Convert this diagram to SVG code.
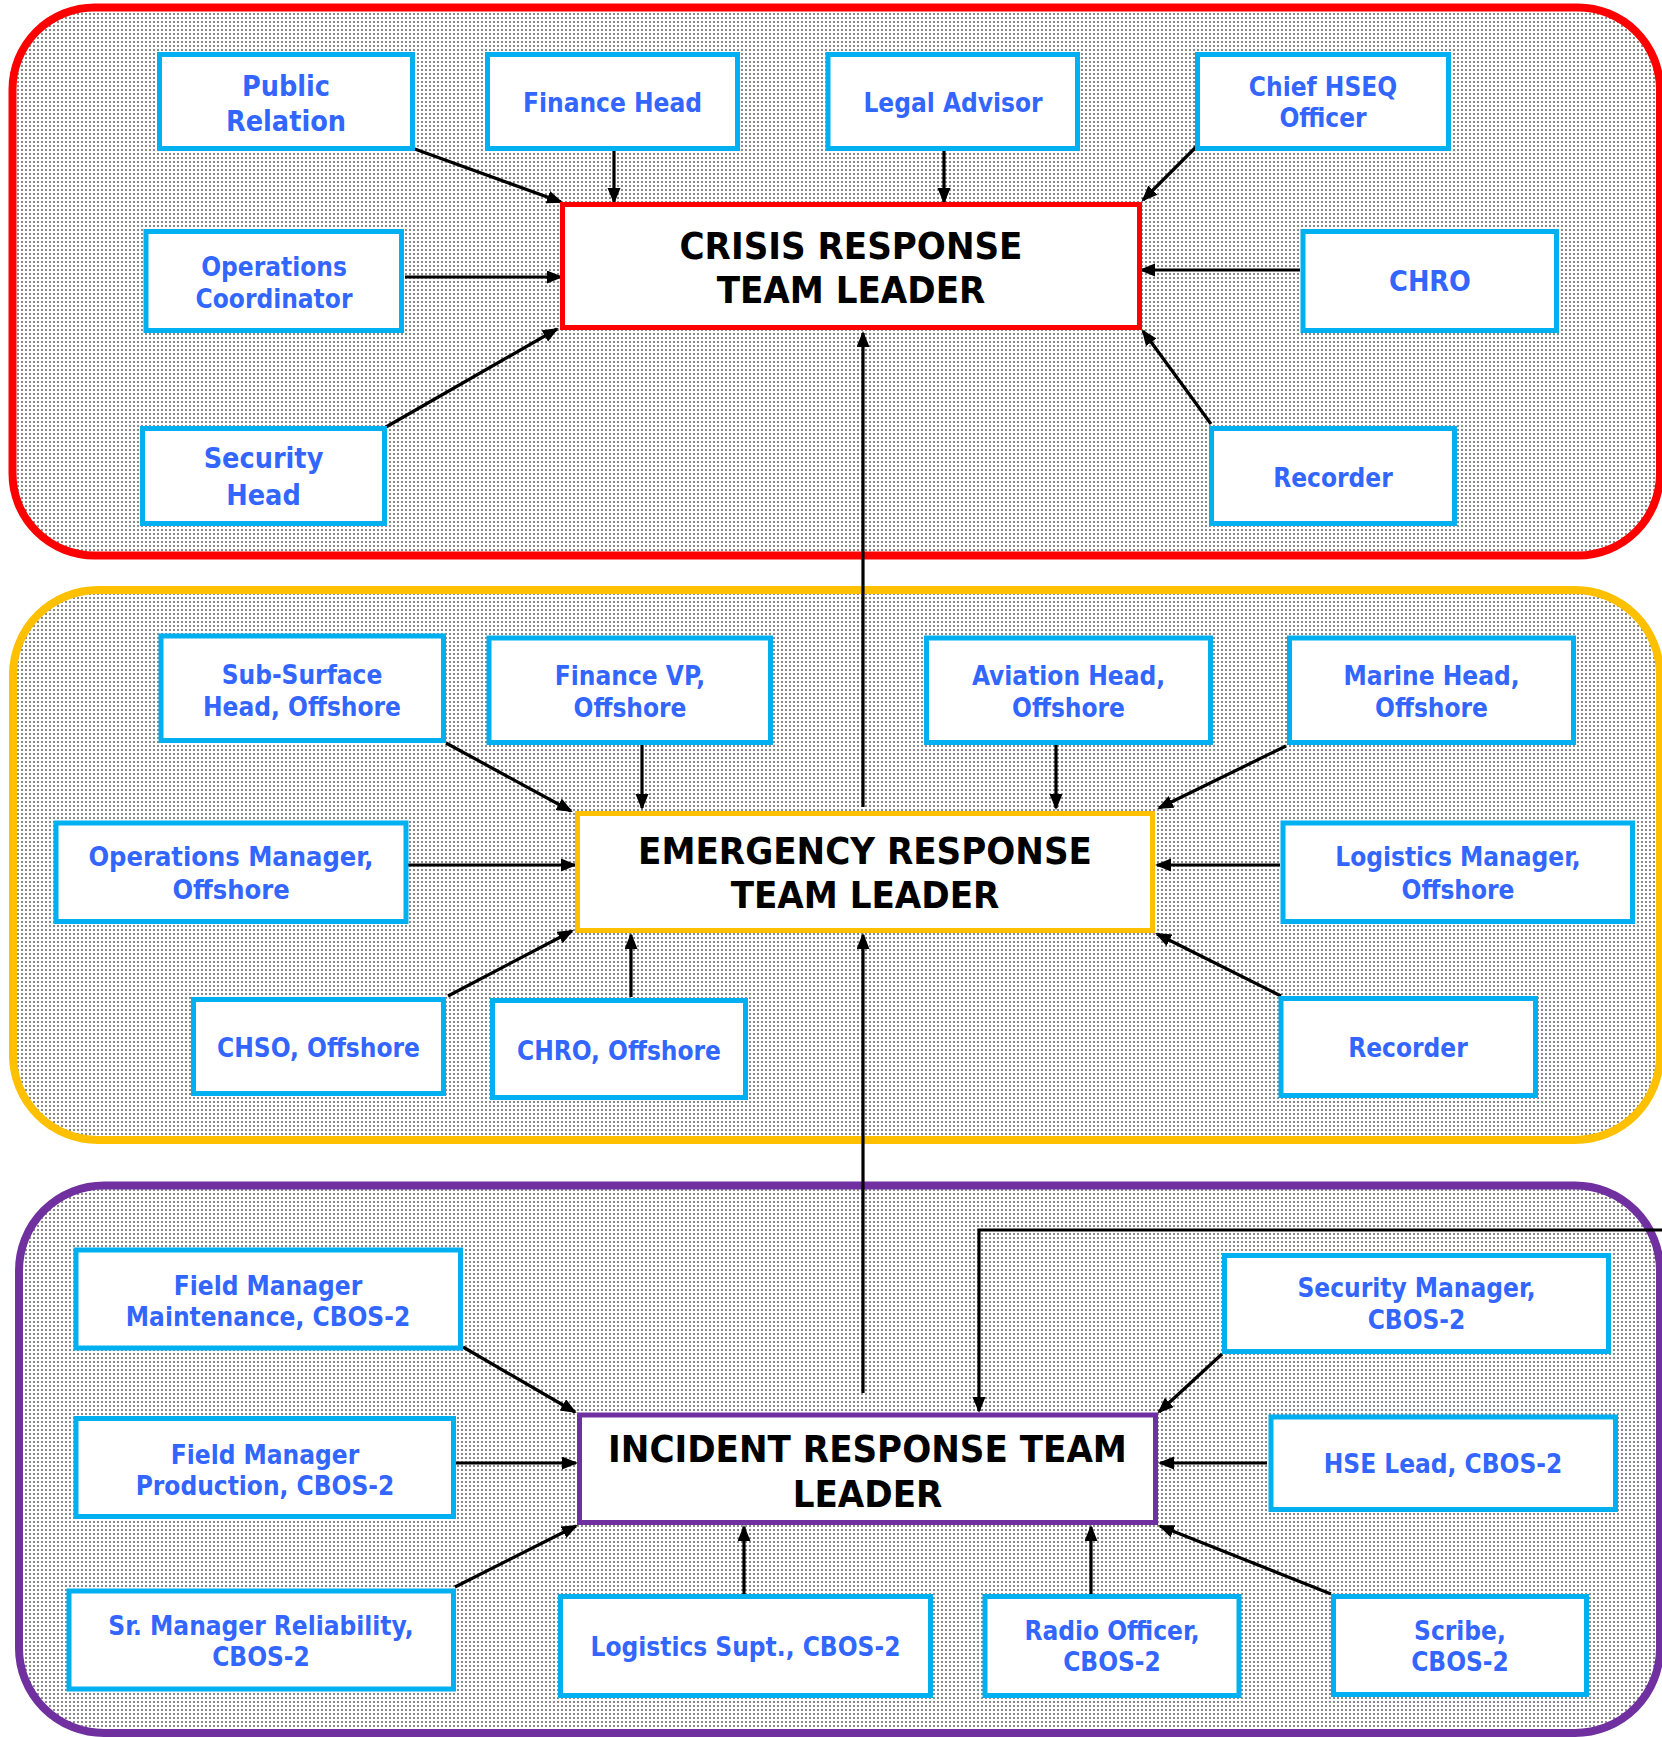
<svg xmlns="http://www.w3.org/2000/svg" width="1662" height="1737" viewBox="0 0 1662 1737">
<defs>
<pattern id="dots" patternUnits="userSpaceOnUse" width="4" height="4">
<rect width="4" height="4" fill="#ffffff"/>
<rect x="1" y="1" width="2" height="2" fill="#8a8a8a"/>
</pattern>
<marker id="arr" markerUnits="userSpaceOnUse" markerWidth="17" markerHeight="14" refX="14" refY="6.5" orient="auto">
<path d="M0,0 L16,6.5 L0,13 z" fill="#000"/>
</marker>
</defs>
<style>
.zone{fill:url(#dots);stroke-width:8}
.box{fill:#fff;stroke:#00B0F0;stroke-width:5}
.lead{fill:#fff;stroke-width:5}
.t{font-family:'DejaVu Sans Condensed','DejaVu Sans',sans-serif;font-weight:bold;fill:#3366FF;font-size:26px;text-anchor:middle}
.tb{font-size:28.5px}
.L{font-family:'DejaVu Sans Condensed','DejaVu Sans',sans-serif;font-weight:bold;fill:#000;font-size:38px;text-anchor:middle}
.c{stroke:#000;stroke-width:3.2;fill:none;marker-end:url(#arr)}
</style>
<rect width="1662" height="1737" fill="#fff"/>
<g id="zones">
<rect id="crisis-zone" class="zone" x="12.5" y="7.5" width="1647.5" height="548" rx="82" stroke="#FF0000"/>
<rect id="emergency-zone" class="zone" x="13" y="590" width="1647" height="550" rx="85" stroke="#FFC000"/>
<rect id="incident-zone" class="zone" x="19" y="1185.5" width="1641" height="547.5" rx="85" stroke="#7030A0"/>
</g>
<g id="connectors">
<line class="c" x1="412" y1="148" x2="561" y2="202"/>
<line class="c" x1="614" y1="151" x2="614" y2="202"/>
<line class="c" x1="944" y1="151" x2="944" y2="202"/>
<line class="c" x1="1197" y1="146" x2="1143" y2="200"/>
<line class="c" x1="405" y1="277" x2="561" y2="277"/>
<line class="c" x1="1300" y1="270" x2="1141" y2="270"/>
<line class="c" x1="386" y1="427" x2="557" y2="329"/>
<line class="c" x1="1211" y1="424" x2="1143" y2="331"/>
<line class="c" x1="863" y1="807" x2="863" y2="333"/>
<line class="c" x1="446" y1="743" x2="571" y2="811"/>
<line class="c" x1="642" y1="745" x2="642" y2="808"/>
<line class="c" x1="1056" y1="745" x2="1056" y2="808"/>
<line class="c" x1="1286" y1="746" x2="1159" y2="808"/>
<line class="c" x1="408" y1="865" x2="575" y2="865"/>
<line class="c" x1="1280" y1="865" x2="1157" y2="865"/>
<line class="c" x1="448" y1="996" x2="572" y2="931"/>
<line class="c" x1="631" y1="997" x2="631" y2="935"/>
<line class="c" x1="1281" y1="996" x2="1157" y2="934"/>
<line class="c" x1="863" y1="1393" x2="863" y2="935"/>
<line class="c" x1="463" y1="1347" x2="575" y2="1412"/>
<line class="c" x1="456" y1="1463" x2="576" y2="1463"/>
<line class="c" x1="455" y1="1587" x2="576" y2="1526"/>
<line class="c" x1="744" y1="1594" x2="744" y2="1527"/>
<line class="c" x1="1091" y1="1595" x2="1091" y2="1527"/>
<line class="c" x1="1331" y1="1594" x2="1160" y2="1526"/>
<line class="c" x1="1267" y1="1463" x2="1160" y2="1463"/>
<line class="c" x1="1222" y1="1354" x2="1159" y2="1412"/>
<path class="c" d="M1662,1230 H979 V1411"/>
</g>
<g id="crt-leader"><rect class="lead" x="562.5" y="204.5" width="577" height="123" stroke="#FF0000"/><text class="L" x="851" y="259">CRISIS RESPONSE</text><text class="L" x="851" y="303">TEAM LEADER</text></g>
<g id="public-relation"><rect class="box" x="159.5" y="54.5" width="253" height="94"/><text class="t tb" x="286" y="96">Public</text><text class="t tb" x="286" y="131">Relation</text></g>
<g id="finance-head"><rect class="box" x="487.5" y="54.5" width="250" height="94"/><text class="t" x="612.5" y="112">Finance Head</text></g>
<g id="legal-advisor"><rect class="box" x="828" y="54.5" width="249.5" height="94"/><text class="t" x="953" y="112">Legal Advisor</text></g>
<g id="chief-hseq"><rect class="box" x="1197.5" y="54.5" width="251" height="94"/><text class="t" x="1323" y="96">Chief HSEQ</text><text class="t" x="1323" y="127">Officer</text></g>
<g id="ops-coordinator"><rect class="box" x="146" y="231.5" width="255.5" height="99"/><text class="t" x="274" y="276">Operations</text><text class="t" x="274" y="308">Coordinator</text></g>
<g id="chro"><rect class="box" x="1303" y="231.5" width="253.5" height="99"/><text class="t tb" x="1430" y="291">CHRO</text></g>
<g id="security-head"><rect class="box" x="142.5" y="428.5" width="242" height="95"/><text class="t tb" x="263.5" y="468">Security</text><text class="t tb" x="263.5" y="505">Head</text></g>
<g id="recorder-crisis"><rect class="box" x="1211.5" y="428.5" width="243" height="95"/><text class="t" x="1333" y="487">Recorder</text></g>
<g id="ert-leader"><rect class="lead" x="577.5" y="813.5" width="575" height="117" stroke="#FFC000"/><text class="L" x="865" y="864">EMERGENCY RESPONSE</text><text class="L" x="865" y="908">TEAM LEADER</text></g>
<g id="subsurface-head"><rect class="box" x="161" y="636" width="282.5" height="104.5"/><text class="t" x="302" y="684">Sub-Surface</text><text class="t" x="302" y="716">Head, Offshore</text></g>
<g id="finance-vp"><rect class="box" x="489" y="638" width="281.5" height="104.5"/><text class="t" x="630" y="685">Finance VP,</text><text class="t" x="630" y="717">Offshore</text></g>
<g id="aviation-head"><rect class="box" x="926.5" y="638" width="284" height="104.5"/><text class="t" x="1068.5" y="685">Aviation Head,</text><text class="t" x="1068.5" y="717">Offshore</text></g>
<g id="marine-head"><rect class="box" x="1289.5" y="638" width="284" height="104.5"/><text class="t" x="1431.5" y="685">Marine Head,</text><text class="t" x="1431.5" y="717">Offshore</text></g>
<g id="ops-manager"><rect class="box" x="56" y="823" width="350" height="98.5"/><text class="t" x="231" y="866" style="font-size:27px">Operations Manager,</text><text class="t" x="231" y="899" style="font-size:27px">Offshore</text></g>
<g id="logistics-manager"><rect class="box" x="1283" y="823" width="349.5" height="98.5"/><text class="t" x="1458" y="866">Logistics Manager,</text><text class="t" x="1458" y="899">Offshore</text></g>
<g id="chso"><rect class="box" x="193.5" y="999.5" width="250" height="94"/><text class="t" x="318.5" y="1057">CHSO, Offshore</text></g>
<g id="chro-offshore"><rect class="box" x="492.5" y="1000.5" width="253" height="97"/><text class="t" x="619" y="1060">CHRO, Offshore</text></g>
<g id="recorder-emergency"><rect class="box" x="1281" y="998.5" width="254.5" height="97"/><text class="t" x="1408" y="1057">Recorder</text></g>
<g id="irt-leader"><rect class="lead" x="579.5" y="1415" width="576" height="107.5" stroke="#7030A0"/><text class="L" x="867.5" y="1462">INCIDENT RESPONSE TEAM</text><text class="L" x="867.5" y="1507">LEADER</text></g>
<g id="fm-maintenance"><rect class="box" x="76" y="1250" width="384.5" height="98"/><text class="t" x="268" y="1295">Field Manager</text><text class="t" x="268" y="1326">Maintenance, CBOS-2</text></g>
<g id="fm-production"><rect class="box" x="76" y="1418.5" width="377.5" height="98"/><text class="t" x="265" y="1464">Field Manager</text><text class="t" x="265" y="1495">Production, CBOS-2</text></g>
<g id="sr-manager-reliability"><rect class="box" x="69" y="1591" width="384.5" height="98"/><text class="t" x="261" y="1635">Sr. Manager Reliability,</text><text class="t" x="261" y="1666">CBOS-2</text></g>
<g id="logistics-supt"><rect class="box" x="560.5" y="1596.5" width="370" height="99"/><text class="t" x="745.5" y="1656">Logistics Supt., CBOS-2</text></g>
<g id="radio-officer"><rect class="box" x="985" y="1596.5" width="254" height="99"/><text class="t" x="1112" y="1640">Radio Officer,</text><text class="t" x="1112" y="1671">CBOS-2</text></g>
<g id="scribe"><rect class="box" x="1333.5" y="1596.5" width="253" height="98"/><text class="t" x="1460" y="1640">Scribe,</text><text class="t" x="1460" y="1671">CBOS-2</text></g>
<g id="security-manager"><rect class="box" x="1224.5" y="1255.5" width="384" height="96"/><text class="t" x="1416.5" y="1297">Security Manager,</text><text class="t" x="1416.5" y="1329">CBOS-2</text></g>
<g id="hse-lead"><rect class="box" x="1271" y="1417" width="344.5" height="92.5"/><text class="t" x="1443" y="1473">HSE Lead, CBOS-2</text></g>
</svg>
